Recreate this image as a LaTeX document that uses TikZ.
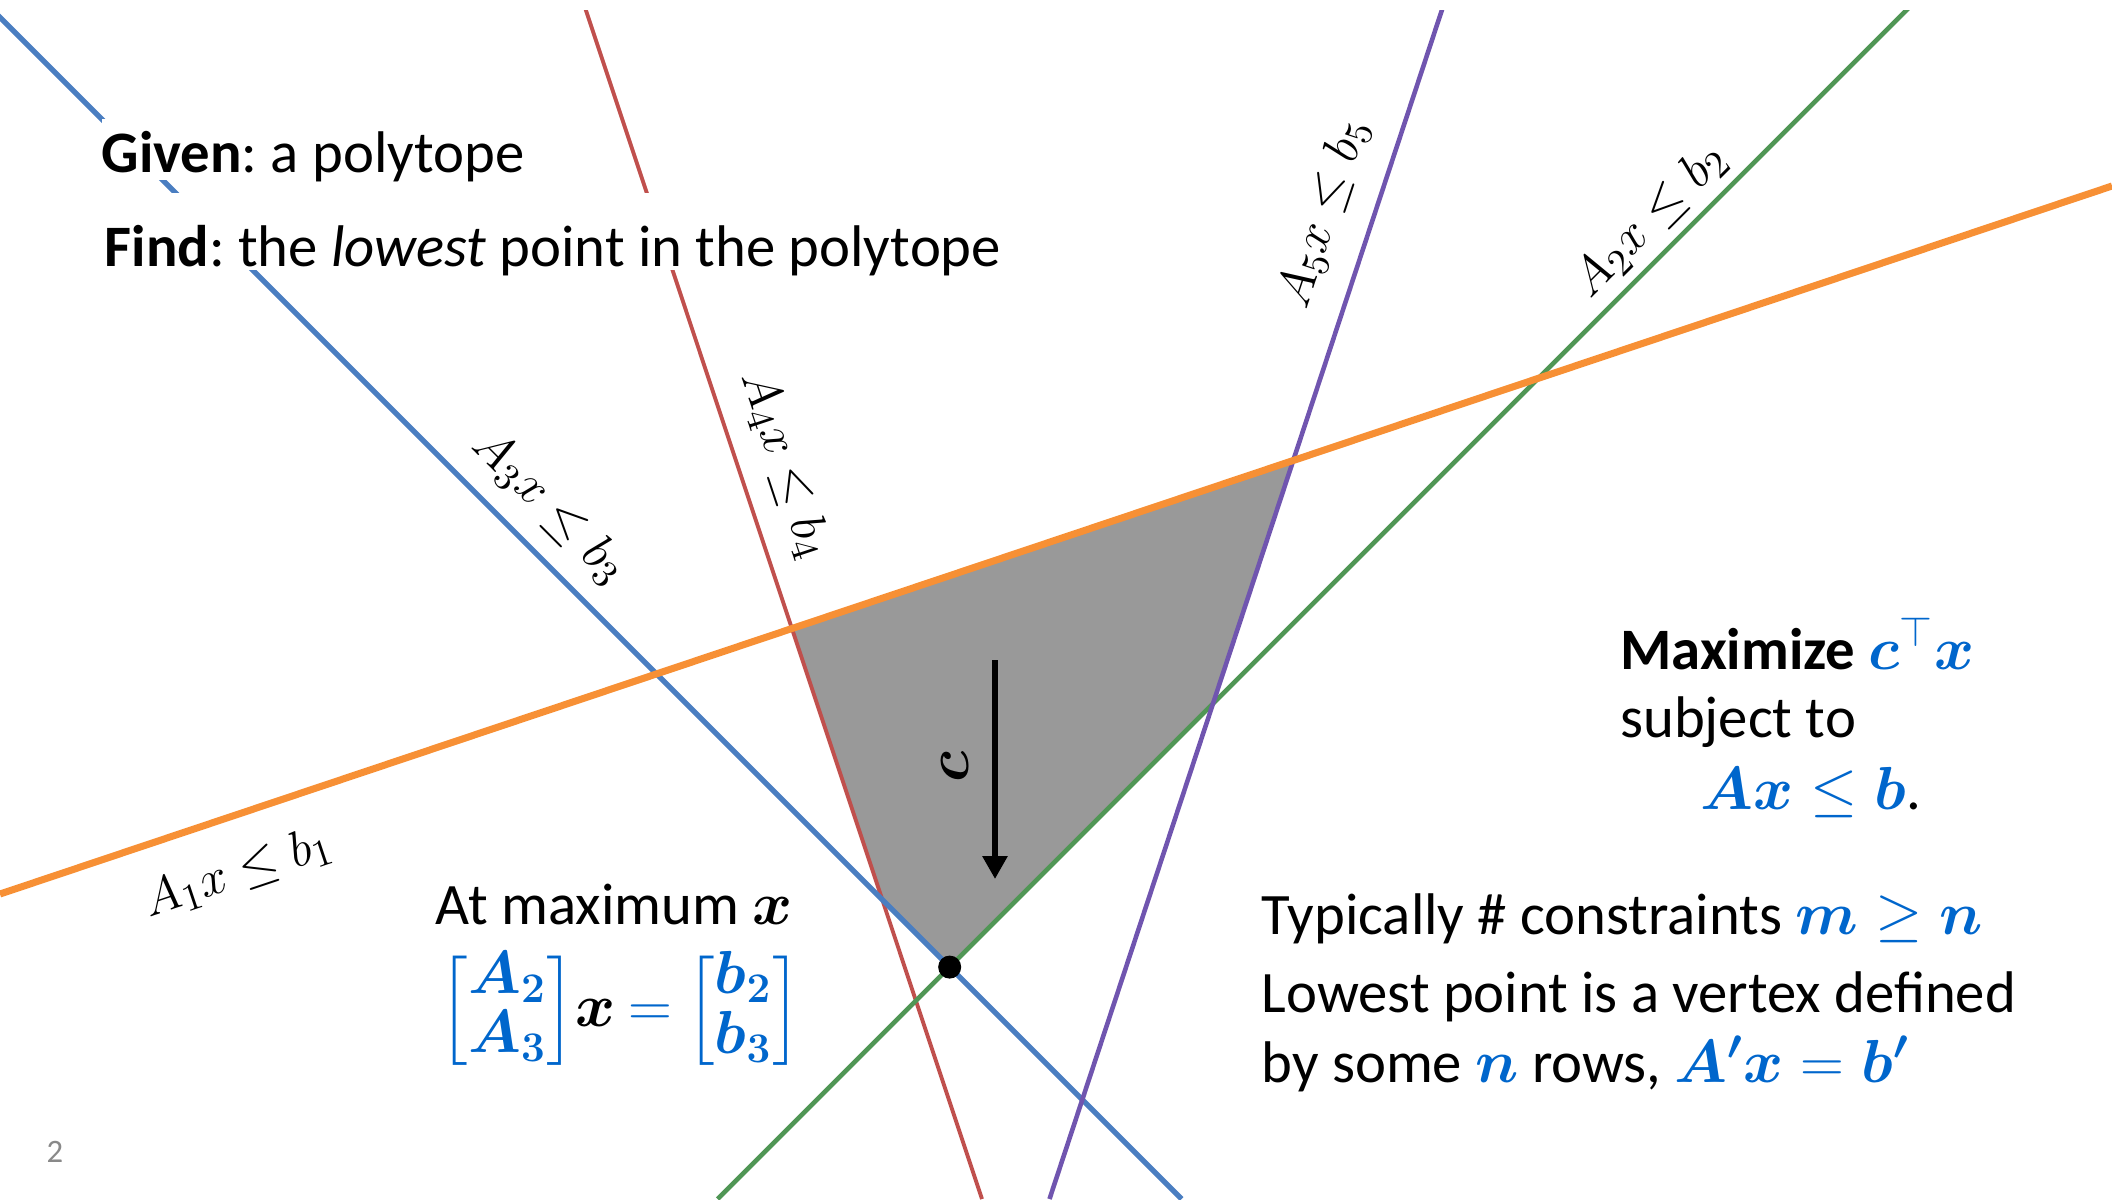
\documentclass[tikz,border=0pt]{standalone}
\usepackage{amsmath}
\usepackage[no-math]{fontspec}
\setmainfont{Carlito}
\frenchspacing
\usetikzlibrary{arrows.meta}
\definecolor{lnblue}{RGB}{74,126,193}
\definecolor{lnred}{RGB}{192,80,77}
\definecolor{lngreen}{RGB}{80,150,85}
\definecolor{lnpurple}{RGB}{112,85,175}
\definecolor{lnorange}{RGB}{247,144,53}
\definecolor{polyfill}{RGB}{153,153,153}
\definecolor{mathblue}{RGB}{0,102,204}
\definecolor{pggray}{RGB}{137,137,137}
\newcommand{\bsym}[1]{\boldsymbol{#1}}
\newcommand{\blu}[1]{\textcolor{mathblue}{#1}}
\tikzset{
  bodytxt/.style={font=\fontsize{16.7}{20}\selectfont, inner sep=0pt, anchor=base west},
  txtbox/.style={bodytxt, fill=white},
  linelbl/.style={font=\fontsize{15.5}{18}\selectfont, inner sep=0pt},
  vdot/.style={circle, fill=black, minimum size=0.23cm, inner sep=0pt},
  carrow/.style={line width=1.8pt, -{Triangle[width=0.24cm,length=0.23cm]}}
}
\begin{document}
\begin{tikzpicture}[x=0.01cm, y=-0.01cm]
\path[use as bounding box] (0,0) rectangle (2112,1199);
\coordinate (o1) at (0,894);       \coordinate (o2) at (2112,186);
\coordinate (r1) at (582.5,0);     \coordinate (r2) at (982,1199);
\coordinate (bl1) at (-17.4,0);    \coordinate (bl2) at (1181.6,1199);
\coordinate (g1) at (1916.6,0);    \coordinate (g2) at (717.6,1199);
\coordinate (p1) at (1445.2,0);    \coordinate (p2) at (1049.5,1199);
\fill[polyfill] (intersection of o1--o2 and r1--r2) -- (intersection of o1--o2 and p1--p2)
  -- (intersection of p1--p2 and g1--g2) -- (intersection of g1--g2 and bl1--bl2)
  -- (intersection of bl1--bl2 and r1--r2) -- cycle;
\begin{scope}
  \clip (0,10) rectangle (2112,1199);
  \draw[lnred, line width=1.1pt] (r1) -- (r2);
  \draw[lnblue, line width=1.5pt] (bl1) -- (bl2);
  \draw[lngreen, line width=1.35pt] (g1) -- (g2);
  \draw[lnpurple, line width=1.3pt] (p1) -- (p2);
  \draw[lnorange, line width=2pt] (o1) -- (o2);
\end{scope}
\node[vdot] (vtx) at (intersection of g1--g2 and bl1--bl2) {};
\coordinate (ctop) at (995,660);
\coordinate (cbot) at (995,879);
\draw[carrow] (ctop) -- (cbot);
\node[linelbl, font=\fontsize{16}{19}\selectfont, rotate=90] (lblc) at (955,767) {$\bsym{c}$};
\node[linelbl, rotate=18.5] (lblA1) at (238,873) {$A_1x\leq b_1$};
\node[linelbl, rotate=45] (lblA2) at (1650,220) {$A_2x\leq b_2$};
\node[linelbl, rotate=-45] (lblA3) at (550,507) {$A_3x\leq b_3$};
\node[linelbl, rotate=-71.6] (lblA4) at (785,465) {$A_4x\leq b_4$};
\node[linelbl, rotate=71.7] (lblA5) at (1324,213) {$A_5x\leq b_5$};
\node[txtbox, text height=0.53cm, text depth=0.08cm] (given) at (101,172) {\textbf{Given}: a polytope};
\node[txtbox, text height=0.73cm, text depth=0.04cm] (find) at (104,266) {\textbf{Find}: the \textit{lowest} point in the polytope};
\node[bodytxt] (atmax) at (435,924) {At maximum $\bsym{x}$};
\node[bodytxt, anchor=west] (vtxeq) at (439,1011) {\renewcommand{\arraystretch}{0.85}%
  $\blu{\begin{bmatrix}\bsym{A_2}\\ \bsym{A_3}\end{bmatrix}}\bsym{x}\mskip4mu\blu{=}\mskip4mu\blu{\begin{bmatrix}\bsym{b_2}\\ \bsym{b_3}\end{bmatrix}}$};
\node[bodytxt] (maxim) at (1619.5,669) {\textbf{Maximize} \blu{$\bsym{c}^{\top}\bsym{x}$}};
\node[bodytxt] (subj) at (1619.5,737.5) {subject to};
\node[bodytxt] (axb) at (1700,809) {\blu{$\bsym{Ax}\leq\bsym{b}$}.};
\node[bodytxt] (typ) at (1261,934) {Typically \# constraints \blu{$\bsym{m}\geq\bsym{n}$}};
\node[bodytxt] (lowpt) at (1261,1012) {Lowest point is a vertex defined};
\node[bodytxt] (bysome) at (1261,1082) {by some \blu{$\bsym{n}$} rows, \blu{$\bsym{A'x}=\bsym{b'}$}};
\node[font=\fontsize{9.3}{11}\selectfont, text=pggray, inner sep=0pt] (pgnum) at (55,1152) {2};
\end{tikzpicture}
\end{document}
